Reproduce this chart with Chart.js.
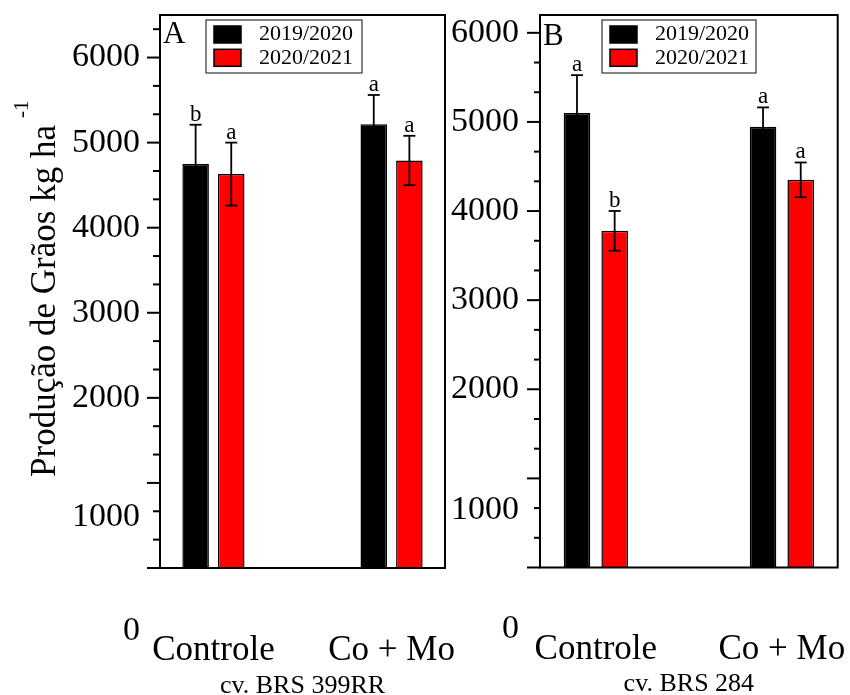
<!DOCTYPE html>
<html><head><meta charset="utf-8">
<script src="https://cdn.jsdelivr.net/npm/chart.js@4/dist/chart.umd.min.js"></script>
<style>
html,body{margin:0;padding:0;background:#fff;}
#wrap{position:relative;width:850px;height:695px;overflow:hidden;background:#fff;}
canvas{position:absolute;top:0;}
</style></head><body>
<div id="wrap">
<canvas id="cA" width="480" height="695" style="left:0px"></canvas>
<canvas id="cB" width="403" height="695" style="left:447px"></canvas>
</div>
<script>
// ---------- data ----------
const categories = ['Controle', 'Co + Mo'];
const seasons = ['2019/2020', '2020/2021'];
const yTickLabels = ['0', '1000', '2000', '3000', '4000', '5000', '6000'];
const yTickLabelSlots = [0, 1000, 2000, 3000, 4000, 5000, 6000];

// Panel A - cv. BRS 399RR
const yieldA_2019 = [4750, 5215];
const yieldA_2020 = [4630, 4790];
const errA_2019 = [460, 345];
const errA_2020 = [370, 290];
const lettersA_2019 = ['b', 'a'];
const lettersA_2020 = ['a', 'a'];

// Panel B - cv. BRS 284
const yieldB_2019 = [5100, 4945];
const yieldB_2020 = [3778, 4350];
const errB_2019 = [425, 218];
const errB_2020 = [223, 195];
const lettersB_2019 = ['a', 'a'];
const lettersB_2020 = ['b', 'a'];

// ---------- styles ----------
const FONT = '"Liberation Serif", "Times New Roman", serif';
const colors = ['#000000', '#ff0000'];

function line(ctx, x1, y1, x2, y2) {
  ctx.beginPath(); ctx.moveTo(x1, y1); ctx.lineTo(x2, y2); ctx.stroke();
}

const decor = {
  id: 'decor',
  afterDatasetsDraw(chart) {
    const p = chart.options.plugins.decor;
    const ctx = chart.ctx, ca = chart.chartArea;
    const ys = chart.scales.y, xs = chart.scales.x;
    ctx.save();
    // error bars + letters
    chart.data.datasets.forEach((ds, di) => {
      const meta = chart.getDatasetMeta(di);
      meta.data.forEach((bar, i) => {
        const v = ds.data[i].y, e = ds.errors[i];
        const x = bar.x;
        const yT = ys.getPixelForValue(v + e), yB = ys.getPixelForValue(v - e);
        ctx.strokeStyle = '#000'; ctx.lineWidth = 1.8;
        line(ctx, x, yT, x, yB);
        line(ctx, x - 6, yT, x + 6, yT);
        line(ctx, x - 6, yB, x + 6, yB);
        ctx.fillStyle = '#000';
        ctx.font = '23px ' + FONT;
        ctx.textAlign = 'center'; ctx.textBaseline = 'alphabetic';
        ctx.fillText(ds.letters[i], x, yT - 4);
      });
    });
    // frame
    ctx.strokeStyle = '#000'; ctx.lineWidth = 2;
    ctx.strokeRect(ca.left, ca.top, ca.right - ca.left, ca.bottom - ca.top);
    // y ticks
    const step = 1000 / 3;
    for (let k = 0; k * step <= ys.max + 1e-6; k++) {
      const py = ys.getPixelForValue(k * step);
      const len = (k % 3 === 0) ? p.majorLen : p.minorLen;
      line(ctx, ca.left - len, py, ca.left, py);
    }
    // y tick labels
    ctx.font = '34px ' + FONT; ctx.fillStyle = '#000';
    ctx.textAlign = 'right'; ctx.textBaseline = 'middle';
    yTickLabels.forEach((t, i) => {
      const slot = yTickLabelSlots[i];
      const pos = (p.labelShift[slot] !== undefined) ? p.labelShift[slot] : slot;
      ctx.fillText(t, ca.left - p.labelGap, ys.getPixelForValue(pos));
    });
    // category labels
    ctx.font = '35px ' + FONT; ctx.textAlign = 'center'; ctx.textBaseline = 'alphabetic';
    categories.forEach((c, i) => ctx.fillText(c, xs.getPixelForValue(i), ca.bottom + p.catOffset));
    // cultivar subtitle
    ctx.font = '26px ' + FONT;
    ctx.fillText(p.subtitle, (ca.left + ca.right) / 2, ca.bottom + p.subOffset);
    // panel letter
    ctx.font = '31px ' + FONT; ctx.textAlign = 'left';
    ctx.fillText(p.letter, ca.left + 3, p.letterBase);
    // legend
    const lg = p.legend;
    const bx = ca.left + lg.dx, by = lg.top;
    ctx.strokeStyle = '#333'; ctx.lineWidth = 1.2;
    ctx.strokeRect(bx, by, lg.w, lg.h);
    seasons.forEach((s, i) => {
      const sy = by + 6 + i * 23.3;
      ctx.fillStyle = colors[i];
      ctx.fillRect(bx + 8, sy, 27, 17);
      ctx.strokeStyle = '#000'; ctx.lineWidth = 1.5;
      ctx.strokeRect(bx + 8, sy, 27, 17);
      ctx.fillStyle = '#000'; ctx.font = '22px ' + FONT;
      ctx.textAlign = 'left'; ctx.textBaseline = 'middle';
      ctx.fillText(s, bx + lg.textDx, sy + 8.5);
    });
    // y axis title
    if (p.yTitle) {
      ctx.save();
      ctx.translate(55, 301);
      ctx.rotate(-Math.PI / 2);
      ctx.font = '35px ' + FONT; ctx.fillStyle = '#000';
      ctx.textAlign = 'center'; ctx.textBaseline = 'alphabetic';
      ctx.fillText(p.yTitle, 0, 0);
      ctx.font = '21px ' + FONT; ctx.textAlign = 'left';
      ctx.fillText('-1', 183, -27);
      ctx.restore();
    }
    ctx.restore();
  }
};

function makePanel(id, v2019, v2020, e2019, e2020, l2019, l2020, yMax, pad, catPct, barPct, deco) {
  return new Chart(document.getElementById(id), {
    type: 'bar',
    data: {
      datasets: [
        { label: seasons[0], data: categories.map((c, i) => ({ x: i, y: v2019[i] })),
          errors: e2019, letters: l2019,
          backgroundColor: colors[0], borderColor: '#000', borderWidth: 1.5,
          categoryPercentage: catPct, barPercentage: barPct },
        { label: seasons[1], data: categories.map((c, i) => ({ x: i, y: v2020[i] })),
          errors: e2020, letters: l2020,
          backgroundColor: colors[1], borderColor: '#000', borderWidth: 1.5,
          categoryPercentage: catPct, barPercentage: barPct }
      ]
    },
    options: {
      responsive: false, animation: false, devicePixelRatio: 1,
      layout: { padding: pad },
      plugins: { legend: { display: false }, tooltip: { enabled: false }, decor: deco },
      scales: {
        x: { type: 'linear', min: -0.3, max: 1.3, offset: false,
             afterBuildTicks: s => { s.ticks = [{ value: 0 }, { value: 1 }]; },
             ticks: { display: false }, grid: { display: false, drawTicks: false }, border: { display: false } },
        y: { min: 0, max: yMax,
             ticks: { display: false }, grid: { display: false, drawTicks: false }, border: { display: false } }
      }
    },
    plugins: [decor]
  });
}

makePanel('cA', yieldA_2019, yieldA_2020, errA_2019, errA_2020, lettersA_2019, lettersA_2020, 6500,
  { left: 160, top: 15, right: 35, bottom: 127 }, 0.4, 0.745,
  { majorLen: 13, minorLen: 7, labelGap: 20, labelShift: { 0: -745, 1000: 600 },
    catOffset: 92, subOffset: 125, subtitle: 'cv. BRS 399RR', letter: 'A', letterBase: 43,
    legend: { dx: 46, top: 20, w: 156, h: 53, textDx: 53 },
    yTitle: 'Produção de Grãos kg ha' });

makePanel('cB', yieldB_2019, yieldB_2020, errB_2019, errB_2020, lettersB_2019, lettersB_2020, 6200,
  { left: 93, top: 15, right: 12.3, bottom: 127.5 }, 0.405, 0.705,
  { majorLen: 13, minorLen: 6, labelGap: 21, labelShift: { 0: -694, 1000: 640 },
    catOffset: 91, subOffset: 123.5, subtitle: 'cv. BRS 284', letter: 'B', letterBase: 45,
    legend: { dx: 62, top: 20, w: 154, h: 53, textDx: 53 },
    yTitle: null });
</script>
</body></html>
